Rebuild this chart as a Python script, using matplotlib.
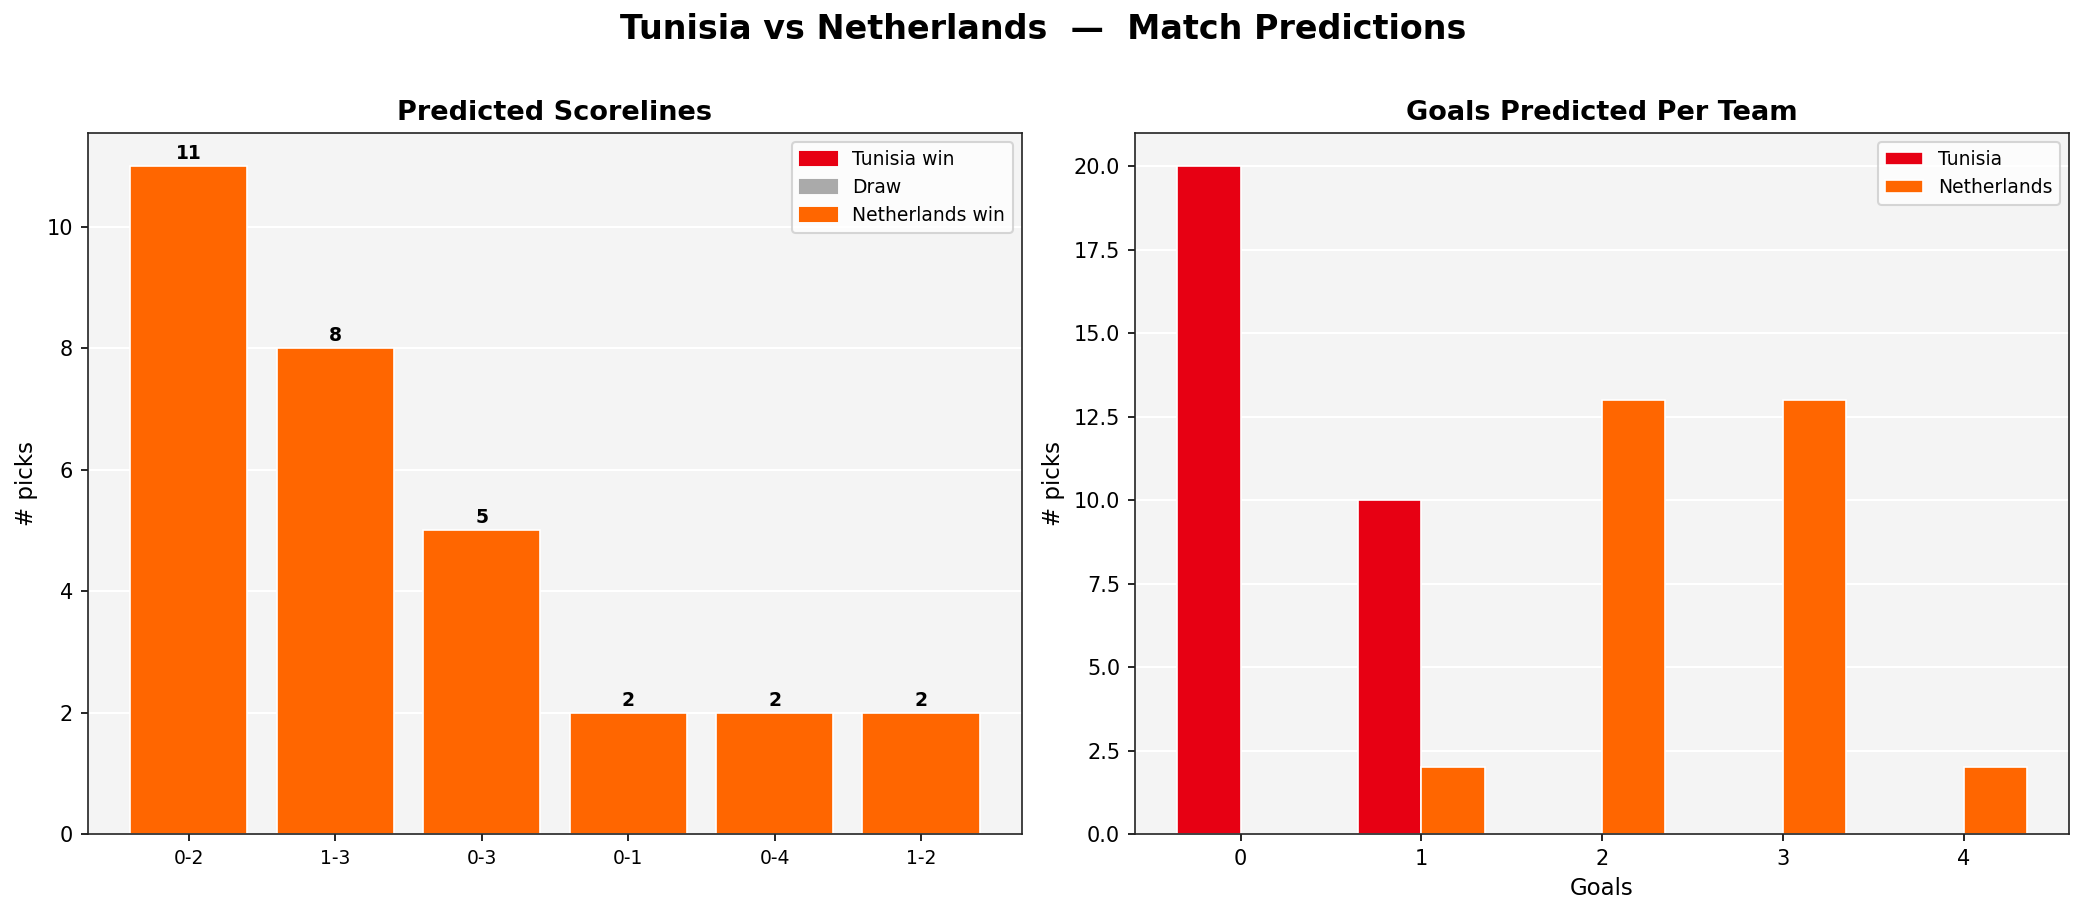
import numpy as np
import matplotlib
matplotlib.use("Agg")
import matplotlib.pyplot as plt
from matplotlib.patches import Patch

TUN_RED = "#E70013"
NED_ORANGE = "#FF6600"
DRAW_GRAY = "#AAAAAA"

# left panel: predicted scorelines (Tunisia-Netherlands)
scorelines = ["0-2", "1-3", "0-3", "0-1", "0-4", "1-2"]
score_picks = [11, 8, 5, 2, 2, 2]

# right panel: goals predicted per team
goals = [0, 1, 2, 3, 4]
tunisia_goals = [20, 10, 0, 0, 0]
netherlands_goals = [0, 2, 13, 13, 2]


def result_color(score):
    h, a = (int(s) for s in score.split("-"))
    if h > a:
        return TUN_RED
    if h == a:
        return DRAW_GRAY
    return NED_ORANGE


fig = plt.figure(figsize=(2086 / 150, 916 / 150), dpi=150)
ax1 = fig.add_axes([0.042, 0.0895, 0.448, 0.7655])
ax2 = fig.add_axes([0.544, 0.0895, 0.448, 0.7655])

for ax in (ax1, ax2):
    ax.set_facecolor("#F4F4F4")
    ax.grid(True, axis="y", color="white", linewidth=1.0)
    ax.set_axisbelow(True)
    for sp in ax.spines.values():
        sp.set_color("#222222")

# --- scorelines
x = np.arange(len(scorelines))
cols = [result_color(s) for s in scorelines]
bars = ax1.bar(x, score_picks, width=0.8, color=cols, edgecolor="white", linewidth=0.8)
for b, v in zip(bars, score_picks):
    ax1.text(b.get_x() + b.get_width() / 2, v + 0.05, str(v),
             ha="center", va="bottom", fontsize=9, fontweight="bold")
ax1.set_xticks(x)
ax1.set_xticklabels(scorelines, fontsize=9)
ax1.set_ylabel("# picks", fontsize=11)
ax1.set_title("Predicted Scorelines", fontsize=13, fontweight="bold")
ax1.set_ylim(0, max(score_picks) * 1.05)
handles = [Patch(color=TUN_RED, label="Tunisia win"),
           Patch(color=DRAW_GRAY, label="Draw"),
           Patch(color=NED_ORANGE, label="Netherlands win")]
ax1.legend(handles=handles, loc="upper right", fontsize=9)

# --- goals per team
w = 0.35
g = np.array(goals)
ax2.bar(g - w / 2, tunisia_goals, width=w, color=TUN_RED, edgecolor="white",
        linewidth=0.8, label="Tunisia")
ax2.bar(g + w / 2, netherlands_goals, width=w, color=NED_ORANGE, edgecolor="white",
        linewidth=0.8, label="Netherlands")
ax2.set_xticks(g)
ax2.set_xlabel("Goals", fontsize=11)
ax2.set_ylabel("# picks", fontsize=11)
ax2.set_title("Goals Predicted Per Team", fontsize=13, fontweight="bold")
ax2.legend(loc="upper right", fontsize=9)

fig.suptitle("Tunisia vs Netherlands  \u2014  Match Predictions",
             fontsize=16, fontweight="bold", y=0.968, va="center")

fig.savefig("out.png", dpi=150)
